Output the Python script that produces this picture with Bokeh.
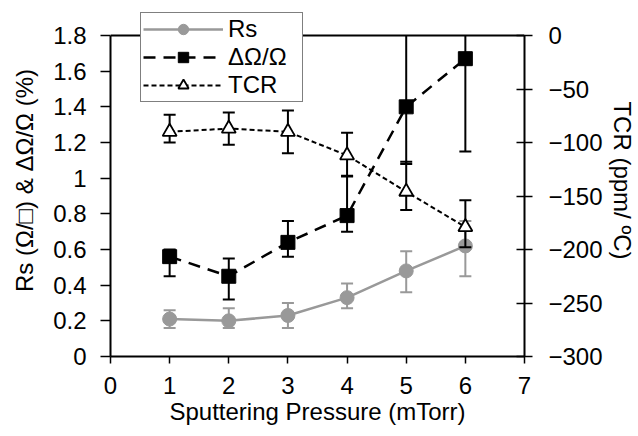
from bokeh.plotting import figure
from bokeh.models import (Range1d, LinearAxis, FixedTicker, NumeralTickFormatter,
                          BasicTickFormatter, Legend, LegendItem, Span)
from bokeh.embed import file_html
from bokeh.resources import INLINE

# ---- data ----
pressure = [1, 2, 3, 4, 5, 6]
x_ticks = [0, 1, 2, 3, 4, 5, 6, 7]
left_ticks = [0, 0.2, 0.4, 0.6, 0.8, 1.0, 1.2, 1.4, 1.6, 1.8]
right_ticks = [-300, -250, -200, -150, -100, -50, 0]

rs = [0.21, 0.20, 0.23, 0.33, 0.48, 0.62]
rs_hi = [0.26, 0.27, 0.30, 0.41, 0.59, 0.76]
rs_lo = [0.16, 0.16, 0.16, 0.27, 0.36, 0.45]

dr = [0.56, 0.45, 0.64, 0.79, 1.40, 1.67]
dr_hi = [0.60, 0.55, 0.76, 1.01, 1.95, 2.19]
dr_lo = [0.45, 0.32, 0.56, 0.70, 1.08, 1.15]

tcr = [-90, -87, -90, -112, -146, -179]
tcr_hi = [-74, -72, -70, -91, -118, -154]
tcr_lo = [-100, -102, -110, -131, -163, -198]

labels = ["Rs", "ΔΩ/Ω", "TCR"]

FONT = "Liberation Sans"
FS = "24px"
GRAY = "#999999"

# plot area geometry (pixels)
W, H = 638, 436
LEFT, RIGHT, BOTTOM = 110, 113, 80
TOP_CANVAS = 4           # frame top (room for the legend that overlaps the top)
AXIS_TOP_PX = 35         # where the y axes end (1.8 / 0)
frame_h = H - TOP_CANVAS - BOTTOM
axis_h = H - AXIS_TOP_PX - BOTTOM
y_max = left_ticks[-1]
y_min = left_ticks[0]
r_max = right_ticks[-1]
r_min = right_ticks[0]
y_end = y_min + (y_max - y_min) * frame_h / axis_h
r_end = r_min + (r_max - r_min) * frame_h / axis_h

p = figure(width=W, height=H, output_backend="svg", toolbar_location=None,
           x_range=Range1d(x_ticks[0], x_ticks[-1]), y_range=Range1d(y_min, y_end),
           min_border_left=LEFT, min_border_right=RIGHT, min_border_top=TOP_CANVAS,
           min_border_bottom=BOTTOM, background_fill_color="white",
           border_fill_color="white")
p.extra_y_ranges = {"tcr": Range1d(r_min, r_end)}
p.grid.visible = False
p.outline_line_color = None


def style_axis(ax):
    ax.axis_line_width = 2
    ax.axis_line_color = "black"
    ax.major_tick_line_width = 1.5
    ax.major_tick_line_color = "black"
    ax.minor_tick_line_color = None
    ax.major_label_text_font = FONT
    ax.major_label_text_font_size = FS
    ax.major_label_text_color = "black"
    ax.axis_label_text_font = FONT
    ax.axis_label_text_font_size = FS
    ax.axis_label_text_font_style = "normal"
    ax.axis_label_text_color = "black"


xa = p.xaxis[0]
style_axis(xa)
xa.ticker = FixedTicker(ticks=x_ticks)
xa.major_tick_in = 0
xa.major_tick_out = 7
xa.major_label_standoff = 13
xa.axis_label = "Sputtering Pressure (mTorr)"
xa.axis_label_standoff = 1

ya = p.yaxis[0]
style_axis(ya)
ya.ticker = FixedTicker(ticks=left_ticks)
ya.formatter = NumeralTickFormatter(format="0.[0]")
ya.bounds = (y_min, y_max)
ya.major_tick_in = 0
ya.major_tick_out = 10
ya.major_label_standoff = 14
ya.axis_label = "Rs (Ω/□) & ΔΩ/Ω (%)"
ya.axis_label_standoff = 12

ra = LinearAxis(y_range_name="tcr")
style_axis(ra)
ra.ticker = FixedTicker(ticks=right_ticks)
ra.formatter = BasicTickFormatter()
ra.bounds = (r_min, r_max)
ra.major_tick_in = 8
ra.major_tick_out = 8
ra.major_label_standoff = 16
ra.axis_label = "TCR (ppm/ ºC)"
ra.axis_label_standoff = 3
p.add_layout(ra, "right")

# top border of the plot area
p.add_layout(Span(location=y_max, dimension="width", line_color="black", line_width=2))

CAP = 12

# Rs series
r_rs_line = p.line(pressure, rs, line_color=GRAY, line_width=2.5)
p.segment(pressure, rs_lo, pressure, rs_hi, line_color=GRAY, line_width=2)
p.scatter(pressure, rs_hi, marker="dash", size=CAP, line_color=GRAY, line_width=2)
p.scatter(pressure, rs_lo, marker="dash", size=CAP, line_color=GRAY, line_width=2)
r_rs_mk = p.scatter(pressure, rs, marker="circle", size=14, fill_color=GRAY,
                    line_color=GRAY)

# dR/R series (error bars cut at the plot-area top)
dr_hi_cut = [min(v, y_max) for v in dr_hi]
cap_x = [x for x, v in zip(pressure, dr_hi) if v <= y_max]
cap_y = [v for v in dr_hi if v <= y_max]
r_dr_line = p.line(pressure, dr, line_color="black", line_width=2.5, line_dash="12 8")
p.segment(pressure, dr_lo, pressure, dr_hi_cut, line_color="black", line_width=2)
p.scatter(cap_x, cap_y, marker="dash", size=CAP, line_color="black", line_width=2)
p.scatter(pressure, dr_lo, marker="dash", size=CAP, line_color="black", line_width=2)
r_dr_mk = p.scatter(pressure, dr, marker="square", size=14, fill_color="black",
                    line_color="black")

# TCR series
r_t_line = p.line(pressure, tcr, line_color="black", line_width=2, line_dash="5 3",
                  y_range_name="tcr")
p.segment(pressure, tcr_lo, pressure, tcr_hi, line_color="black", line_width=2,
          y_range_name="tcr")
p.scatter(pressure, tcr_hi, marker="dash", size=CAP, line_color="black", line_width=2,
          y_range_name="tcr")
p.scatter(pressure, tcr_lo, marker="dash", size=CAP, line_color="black", line_width=2,
          y_range_name="tcr")
r_t_mk = p.scatter(pressure, tcr, marker="triangle", size=14, fill_color="white",
                   line_color="black", line_width=1.8, y_range_name="tcr")

legend = Legend(items=[
    LegendItem(label=labels[0], renderers=[r_rs_line, r_rs_mk]),
    LegendItem(label=labels[1], renderers=[r_dr_line, r_dr_mk]),
    LegendItem(label=labels[2], renderers=[r_t_line, r_t_mk]),
], location=(30, 254), padding=2, spacing=0, margin=0,
    glyph_width=80, glyph_height=26, label_height=26, label_width=72,
    label_standoff=5, label_text_font=FONT, label_text_font_size=FS,
    label_text_color="black", border_line_color="black", border_line_width=1,
    background_fill_color="white", background_fill_alpha=1)
p.add_layout(legend, "center")

open("out.html", "w").write(file_html(p, INLINE))
